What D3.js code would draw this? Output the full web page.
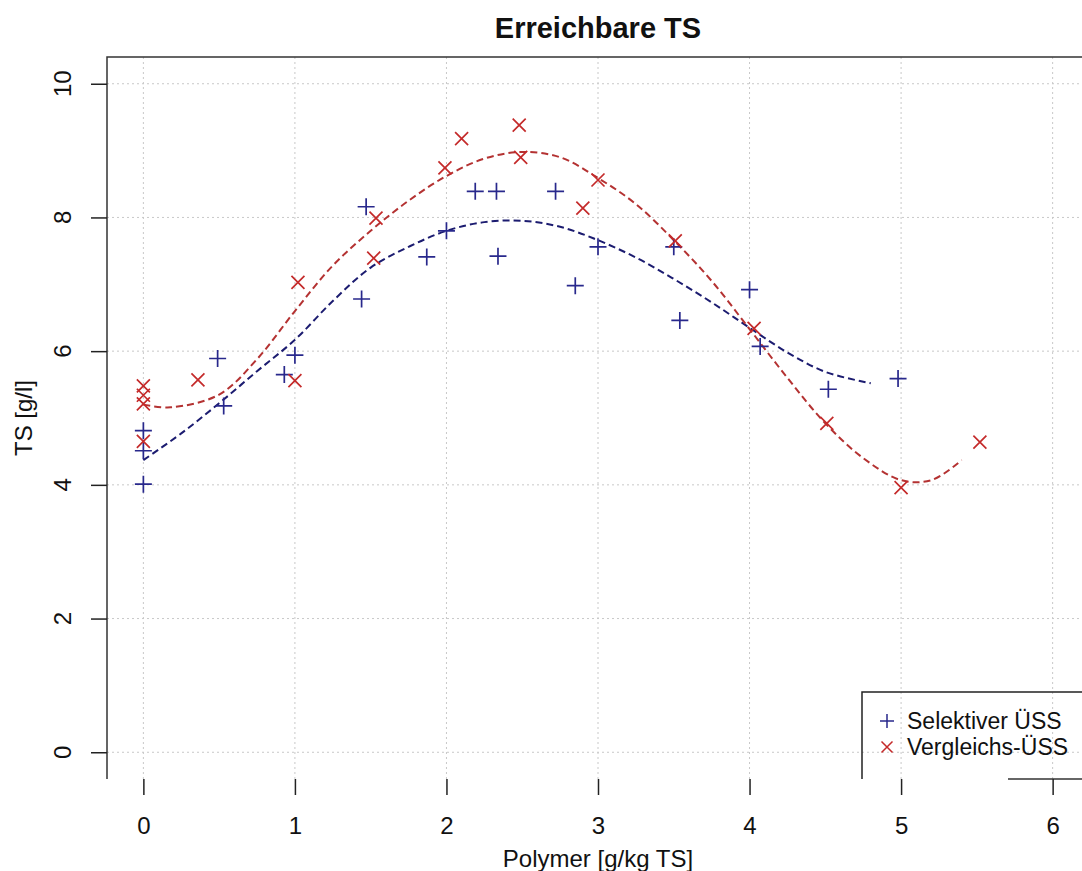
<!DOCTYPE html>
<html>
<head>
<meta charset="utf-8">
<title>Erreichbare TS</title>
<script src="https://d3js.org/d3.v7.min.js"></script>
<style>
 body { margin: 0; background: #fff; }
 svg text { font-family: "Liberation Sans", Arial, sans-serif; fill: #111; }
 .grid line { stroke: #c8c8c8; stroke-width: 1; stroke-dasharray: 2,3; }
 .tick line { stroke: #222; stroke-width: 1.5; }
</style>
</head>
<body>
<svg id="chart"></svg>
<script>
// Selektiver ÜSS (blue +)
var selX = [0, 0, 0, 0.49, 0.53, 0.93, 1.0, 1.44, 1.47, 1.87, 2.0, 2.19, 2.33, 2.34, 2.72, 2.85, 3.0, 3.5, 3.54, 4.0, 4.07, 4.52, 4.98];
var selY = [4.01, 4.51, 4.81, 5.89, 5.18, 5.65, 5.94, 6.78, 8.16, 7.41, 7.8, 8.39, 8.39, 7.42, 8.39, 6.98, 7.56, 7.56, 6.46, 6.92, 6.07, 5.43, 5.59];
// Vergleichs-ÜSS (red x)
var vglX = [0, 0, 0, 0, 0.36, 1.0, 1.02, 1.52, 1.535, 1.99, 2.10, 2.48, 2.49, 2.90, 3.0, 3.51, 4.03, 4.51, 5.0, 5.52];
var vglY = [5.48, 5.34, 5.21, 4.65, 5.57, 5.56, 7.03, 7.39, 7.99, 8.74, 9.18, 9.38, 8.9, 8.14, 8.56, 7.65, 6.34, 4.92, 3.96, 4.64];
// fitted curves
var selFitX = [0, 0.25, 0.5, 0.75, 1.0, 1.25, 1.5, 1.75, 2.0, 2.25, 2.5, 2.75, 3.0, 3.25, 3.5, 3.75, 4.0, 4.25, 4.5, 4.8];
var selFitY = [4.37, 4.77, 5.22, 5.7, 6.17, 6.75, 7.25, 7.56, 7.8, 7.93, 7.95, 7.86, 7.66, 7.4, 7.08, 6.73, 6.35, 5.98, 5.69, 5.52];
var vglFitX = [0, 0.18, 0.5, 0.75, 1.0, 1.25, 1.5, 1.75, 2.0, 2.25, 2.5, 2.75, 3.0, 3.25, 3.5, 3.75, 4.0, 4.25, 4.5, 4.75, 5.0, 5.2, 5.4];
var vglFitY = [5.2, 5.16, 5.35, 5.88, 6.6, 7.28, 7.8, 8.25, 8.62, 8.88, 8.98, 8.9, 8.59, 8.2, 7.66, 7.05, 6.33, 5.6, 4.92, 4.4, 4.07, 4.07, 4.37];

var xTicks = [0, 1, 2, 3, 4, 5, 6];
var yTicks = [0, 2, 4, 6, 8, 10];
var legendLabels = ["Selektiver ÜSS", "Vergleichs-ÜSS"];

var W = 1082, H = 871;
var box = {left: 107, right: 1089, top: 57, bottom: 779};
var blue = "#28288c", blueLine = "#1c1c70", red = "#c42a2a", redLine = "#b43232";

var x = d3.scaleLinear().domain([-0.24, 6.24]).range([box.left, box.right]);
var y = d3.scaleLinear().domain([-0.4, 10.4]).range([box.bottom, box.top]);

var svg = d3.select("#chart").attr("width", W).attr("height", H);

// grid
var grid = svg.append("g").attr("class", "grid");
grid.selectAll(".gv").data(xTicks).enter().append("line")
    .attr("x1", d => x(d)).attr("x2", d => x(d))
    .attr("y1", box.top).attr("y2", box.bottom);
grid.selectAll(".gh").data(yTicks).enter().append("line")
    .attr("x1", box.left).attr("x2", box.right)
    .attr("y1", d => y(d)).attr("y2", d => y(d));

// box (left + top, bottom only partly visible)
svg.append("path")
   .attr("d", "M" + box.left + "," + box.bottom + "V" + box.top + "H" + box.right)
   .attr("fill", "none").attr("stroke", "#333").attr("stroke-width", 1.5);
svg.append("line")
   .attr("x1", 1008).attr("x2", box.right)
   .attr("y1", box.bottom).attr("y2", box.bottom)
   .attr("stroke", "#333").attr("stroke-width", 1.5);

// axes
var xAxis = svg.append("g")
   .attr("transform", "translate(0," + box.bottom + ")")
   .call(d3.axisBottom(x).tickValues(xTicks).tickSize(16).tickPadding(22).tickFormat(d3.format("d")));
xAxis.select(".domain").remove();
xAxis.selectAll("text").style("font-size", "24px").attr("fill", "#111");

var yAxis = svg.append("g")
   .attr("transform", "translate(" + box.left + ",0)")
   .call(d3.axisLeft(y).tickValues(yTicks).tickSize(16).tickFormat(""));
yAxis.select(".domain").remove();

svg.selectAll(".ylab").data(yTicks).enter().append("text")
   .attr("transform", d => "translate(71," + y(d) + ") rotate(-90)")
   .attr("text-anchor", "middle")
   .style("font-size", "24px")
   .text(d => d);

// titles
svg.append("text")
   .attr("x", (box.left + box.right) / 2).attr("y", 38)
   .attr("text-anchor", "middle")
   .style("font-size", "29px").style("font-weight", "bold")
   .text("Erreichbare TS");
svg.append("text")
   .attr("x", (box.left + box.right) / 2).attr("y", 867)
   .attr("text-anchor", "middle")
   .style("font-size", "24px")
   .text("Polymer [g/kg TS]");
svg.append("text")
   .attr("transform", "translate(32," + (box.top + box.bottom) / 2 + ") rotate(-90)")
   .attr("text-anchor", "middle")
   .style("font-size", "24px")
   .text("TS [g/l]");

// fitted curves
var line = d3.line().x(d => x(d[0])).y(d => y(d[1])).curve(d3.curveCatmullRom);
svg.append("path")
   .datum(d3.zip(selFitX, selFitY))
   .attr("d", line).attr("fill", "none")
   .attr("stroke", blueLine).attr("stroke-width", 2).attr("stroke-dasharray", "7,4");
svg.append("path")
   .datum(d3.zip(vglFitX, vglFitY))
   .attr("d", line).attr("fill", "none")
   .attr("stroke", redLine).attr("stroke-width", 2).attr("stroke-dasharray", "7,4");

function plus(cx, cy, h) {
  return "M" + (cx - h) + "," + cy + "H" + (cx + h) + "M" + cx + "," + (cy - h) + "V" + (cy + h);
}
function cross(cx, cy, h) {
  return "M" + (cx - h) + "," + (cy - h) + "L" + (cx + h) + "," + (cy + h) +
         "M" + (cx - h) + "," + (cy + h) + "L" + (cx + h) + "," + (cy - h);
}

// points
svg.selectAll(".sel").data(d3.zip(selX, selY)).enter().append("path")
   .attr("d", d => plus(x(d[0]), y(d[1]), 8.5))
   .attr("stroke", blue).attr("stroke-width", 1.7).attr("fill", "none");
svg.selectAll(".vgl").data(d3.zip(vglX, vglY)).enter().append("path")
   .attr("d", d => cross(x(d[0]), y(d[1]), 6.5))
   .attr("stroke", red).attr("stroke-width", 1.7).attr("fill", "none");

// legend (right side cut off)
svg.append("path")
   .attr("d", "M862," + box.bottom + "V692H" + W)
   .attr("fill", "none").attr("stroke", "#222").attr("stroke-width", 1.5);
var leg = svg.append("g");
leg.append("path").attr("d", plus(887, 721, 7)).attr("stroke", blue).attr("stroke-width", 1.5).attr("fill", "none");
leg.append("path").attr("d", cross(887, 747, 5.5)).attr("stroke", red).attr("stroke-width", 1.5).attr("fill", "none");
leg.selectAll("text").data(legendLabels).enter().append("text")
   .attr("x", 907).attr("y", (d, i) => 729 + i * 26)
   .style("font-size", "23px")
   .text(d => d);
</script>
</body>
</html>
